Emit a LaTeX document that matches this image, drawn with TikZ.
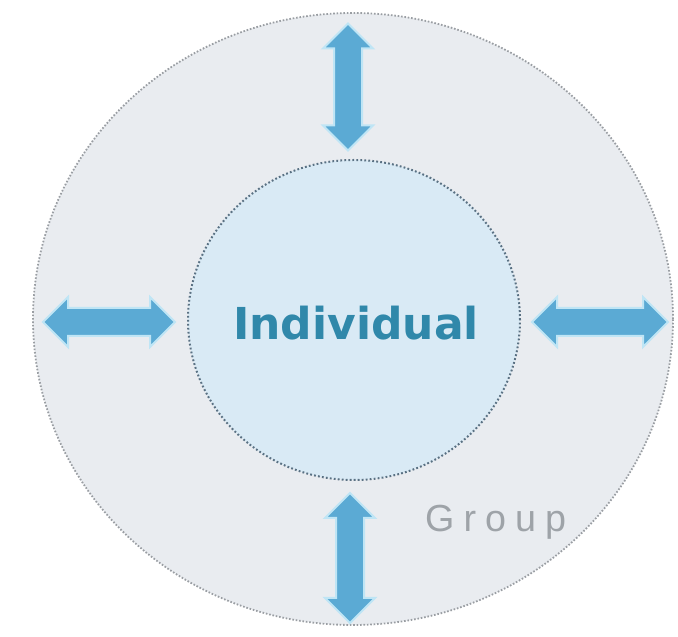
\documentclass[tikz,border=0pt]{standalone}
\usepackage{fontspec}
\usetikzlibrary{shapes.geometric,shapes.arrows,positioning}
\newfontfamily\corefont{DejaVu Sans}
\newfontfamily\ringfont[LetterSpace=24]{Liberation Sans}
\definecolor{ringfill}{HTML}{E9ECF0}
\definecolor{ringline}{HTML}{9A9EA3}
\definecolor{corefill}{HTML}{D9EAF5}
\definecolor{coreline}{HTML}{5A7183}
\definecolor{flow}{HTML}{5BAAD4}
\definecolor{flowglow}{HTML}{BFE5F5}
\definecolor{coretext}{HTML}{3088AA}
\definecolor{ringtext}{HTML}{9EA3A8}
\tikzstyle{ring} = [ellipse, fill=ringfill, draw=ringline, dash pattern=on 1.6pt off 1.8pt,
line width=1.8pt, minimum width=640pt, minimum height=612pt, inner sep=0]
\tikzstyle{core} = [ellipse, fill=corefill, draw=coreline, dash pattern=on 1.8pt off 2.2pt,
line width=2pt, minimum width=332pt, minimum height=320pt, inner sep=0]
\tikzstyle{twoway} = [double arrow, fill=flow, draw=flowglow, line width=2pt,
inner xsep=0, inner ysep=13pt, double arrow head extend=11pt]

\begin{document}
\begin{tikzpicture}[x=1pt, y=1pt]
  \useasboundingbox (0,0) rectangle (678,637);
  \node (group) [ring] at (353,318) {};
  \node (individual) [core] at (354,317) {};
  \node (corelabel) [inner sep=0, font=\corefont\bfseries\fontsize{44}{50}\selectfont,
    text=coretext] at (356,314) {Individual};
  \node (grouplabel) [anchor=base west, inner sep=0, text=ringtext,
    font=\ringfont\fontsize{37.7}{40}\selectfont] at (425,105) {Group};

  % the four exchanges between the ring and the core
  \node (north) [twoway, minimum height=127pt, rotate=90] at (348,550) {};
  \node (south) [twoway, minimum height=130pt, rotate=90] at (350,79) {};
  \node (west) [twoway, minimum height=132pt] at (109,315) {};
  \node (east) [twoway, minimum height=136pt] at (600,315) {};
\end{tikzpicture}
\end{document}
